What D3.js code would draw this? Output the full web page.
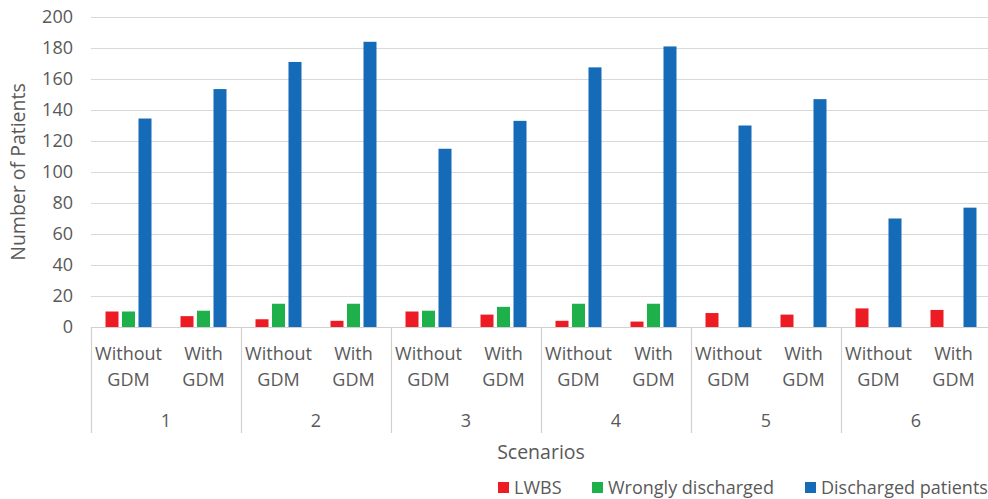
<!DOCTYPE html>
<html>
<head>
<meta charset="utf-8">
<script src="https://cdn.jsdelivr.net/npm/d3@7"></script>
<style>
  html, body { margin: 0; padding: 0; background: #fff; }
  svg { display: block; }
  text { font-family: "Open Sans", sans-serif; fill: #595959; }
</style>
</head>
<body>
<svg id="chart" width="988" height="499"></svg>
<script>
const scenarios = ["1", "2", "3", "4", "5", "6"];
const subgroups = ["Without\nGDM", "With\nGDM"];
const seriesNames = ["LWBS", "Wrongly discharged", "Discharged patients"];
const seriesColors = ["#ED1C24", "#1EB04B", "#156BB8"];
const yTicks = [0, 20, 40, 60, 80, 100, 120, 140, 160, 180, 200];

// values per scenario in order: [Without GDM, With GDM]
const lwbs = [10, 7, 5, 4, 10, 8, 4, 3.5, 9, 8, 12, 11];
const wronglyDischarged = [10, 10.5, 15, 15, 10.5, 13, 15, 15, 0, 0, 0, 0];
const dischargedPatients = [134.5, 153.5, 171, 184, 115, 133, 167.5, 181, 130, 147, 70, 77];

const seriesValues = [lwbs, wronglyDischarged, dischargedPatients];

const svg = d3.select("#chart");
const mLeft = 91, mRight = 991, mTop = 17, mBottom = 327;

const y = d3.scaleLinear().domain([0, 200]).range([mBottom, mTop]);
const cats = [];
scenarios.forEach((s, i) => subgroups.forEach((g, j) => cats.push({ key: s + "|" + j, scen: s, label: g })));
const xCat = d3.scaleBand().domain(cats.map(c => c.key)).range([mLeft, mRight]);
const xGroup = d3.scaleBand().domain(scenarios).range([mLeft, mRight]);
const xSeries = d3.scaleBand().domain(seriesNames).range([0, xCat.bandwidth()]).paddingInner(0.212).paddingOuter(0.879);

// gridlines
svg.append("g").selectAll("line").data(yTicks.filter(t => t > 0)).join("line")
  .attr("x1", mLeft).attr("x2", 988)
  .attr("y1", d => Math.round(y(d)) + 0.5).attr("y2", d => Math.round(y(d)) + 0.5)
  .attr("stroke", "#d9d9d9").attr("stroke-width", 1.2);

// y tick labels
svg.append("g").selectAll("text").data(yTicks).join("text")
  .attr("x", 73).attr("y", d => y(d)).attr("dy", "0.35em")
  .attr("text-anchor", "end").attr("font-size", 18).text(d => d);

// y axis title
svg.append("text")
  .attr("transform", `translate(25,${(mTop + mBottom) / 2}) rotate(-90)`)
  .attr("text-anchor", "middle").attr("font-size", 19.5).text("Number of Patients");

// bars
seriesNames.forEach((name, si) => {
  svg.append("g").selectAll("rect").data(cats.map((c, i) => ({ c, v: seriesValues[si][i] })).filter(d => d.v > 0)).join("rect")
    .attr("x", d => xCat(d.c.key) + xSeries(name))
    .attr("width", xSeries.bandwidth())
    .attr("y", d => y(d.v))
    .attr("height", d => mBottom - y(d.v))
    .attr("fill", seriesColors[si]);
});

// x axis line
svg.append("line").attr("x1", mLeft).attr("x2", 988).attr("y1", mBottom + 0.5).attr("y2", mBottom + 0.5)
  .attr("stroke", "#d0d0d0").attr("stroke-width", 1.2);

// group separators
svg.append("g").selectAll("line").data(scenarios.concat(["end"])).join("line")
  .attr("x1", (d, i) => Math.round(i < scenarios.length ? xGroup(d) : mRight) + 0.5)
  .attr("x2", (d, i) => Math.round(i < scenarios.length ? xGroup(d) : mRight) + 0.5)
  .attr("y1", mBottom).attr("y2", 433)
  .attr("stroke", "#d0d0d0").attr("stroke-width", 1.2);

// subgroup labels
const lab = svg.append("g").selectAll("text").data(cats).join("text")
  .attr("text-anchor", "middle").attr("font-size", 18);
lab.each(function (d) {
  const t = d3.select(this);
  d.label.split("\n").forEach((line, k) => {
    t.append("tspan").attr("x", xCat(d.key) + xCat.bandwidth() / 2).attr("y", 360 + k * 26).text(line);
  });
});

// group labels
svg.append("g").selectAll("text").data(scenarios).join("text")
  .attr("x", d => xGroup(d) + xGroup.bandwidth() / 2).attr("y", 427)
  .attr("text-anchor", "middle").attr("font-size", 18).text(d => d);

// x axis title
svg.append("text").attr("x", 541).attr("y", 459).attr("text-anchor", "middle")
  .attr("font-size", 19.5).text("Scenarios");

// legend
const legendX = [498, 592, 805];
const lg = svg.append("g").selectAll("g").data(seriesNames).join("g")
  .attr("transform", (d, i) => `translate(${legendX[i]},482)`);
lg.append("rect").attr("width", 11).attr("height", 11).attr("fill", (d, i) => seriesColors[i]);
lg.append("text").attr("x", 16).attr("y", 6).attr("dy", "0.35em").attr("font-size", 18).text(d => d);
</script>
</body>
</html>
